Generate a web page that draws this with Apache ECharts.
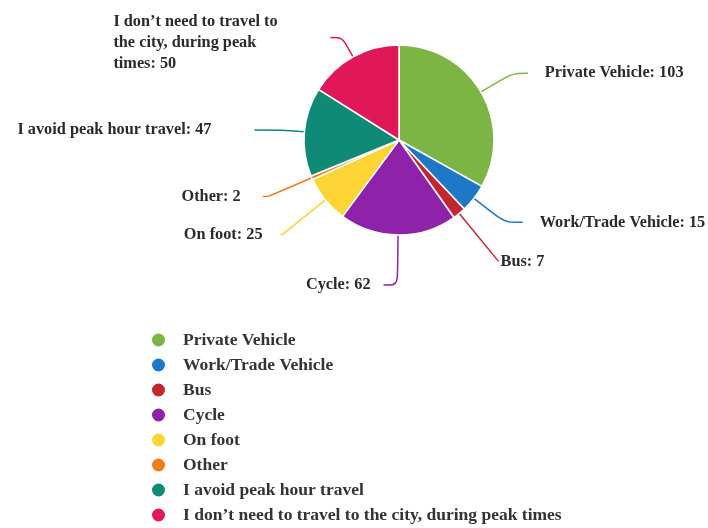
<!DOCTYPE html>
<html><head><meta charset="utf-8">
<script src="https://cdn.jsdelivr.net/npm/echarts@6/dist/echarts.min.js"></script>
<style>html,body{margin:0;padding:0;background:#fff}#c{width:708px;height:528px}</style>
</head><body><div id="c"></div>
<script>
const categories = ["Private Vehicle","Work/Trade Vehicle","Bus","Cycle","On foot","Other","I avoid peak hour travel","I don\u2019t need to travel to the city, during peak times"];
const values = [103,15,7,62,25,2,47,50];
const colors = ["#7db544","#1e78c8","#c42630","#8e22a8","#fcd535","#f07c1c","#0e8a76","#e0185a"];
// label line style per slice: [length, length2, distance to text]
const lineLen = [37, 15, 39, 18, 62, 0, 50, 14, 55, 2, 47, 6, 23, 27, 22, 12];
const labelGap = [17, 17, 2, 13, 18, 22, 43, 52];

const chart = echarts.init(document.getElementById('c'), null, {renderer:'canvas'});
const font = '"Liberation Serif", "Times New Roman", serif';
chart.setOption({
  animation:false,
  color: colors,
  legend: {
    orient:'vertical', left:150, top:331, padding:0, height:200,
    icon:'circle', itemWidth:15, itemHeight:15, itemGap:7,
    data: categories,
    textStyle:{fontFamily:font, fontWeight:'bold', fontSize:17.5, color:'#333', padding:[0,0,0,12]}
  },
  series:[{
    type:'pie', center:[399,140], radius:95, startAngle:90, clockwise:true,
    itemStyle:{borderColor:'#fff', borderWidth:1.5},
    label:{
      fontFamily:font, fontWeight:'bold', fontSize:16.3, color:'#2a2a2a', bleedMargin:0,
      formatter: p => p.name + ': ' + p.value
    },
    labelLine:{smooth:0.3, lineStyle:{width:1.5}},
    data: categories.map((n,i)=>{
      const d = {name:n, value:values[i],
        labelLine:{length:lineLen[2*i], length2:lineLen[2*i+1]},
        label:{distanceToLabelLine:labelGap[i]}};
      if (i===7) {
        d.label.formatter = p => '{a|I don\u2019t need to travel to}\n{a|the city, during peak}\n{a|times: ' + p.value + '}';
        d.label.rich = {a:{width:165, align:'left', lineHeight:21, fontFamily:font, fontWeight:'bold', fontSize:16.3, color:'#2a2a2a'}};
        d.label.padding = [11,0,0,0];
      }
      return d;
    })
  }]
});
</script></body></html>
